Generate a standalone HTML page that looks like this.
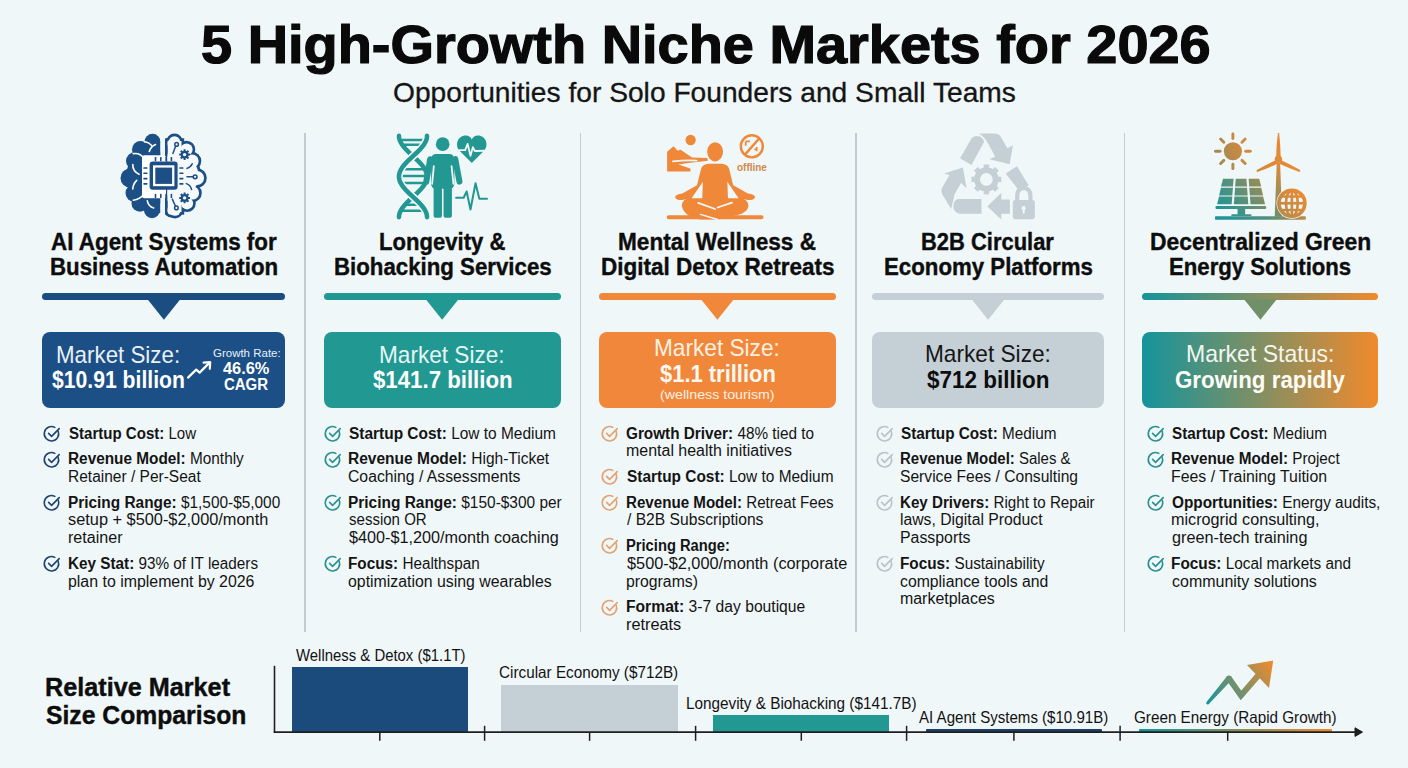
<!DOCTYPE html>
<html><head><meta charset="utf-8"><style>
html,body{margin:0;padding:0;}
body{width:1408px;height:768px;overflow:hidden;position:relative;background:#f0f7f8;font-family:"Liberation Sans",sans-serif;}
.t{position:absolute;white-space:pre;line-height:1;transform-origin:0 0;}
.t b{font-weight:bold;}
</style></head><body>
<div style="position:absolute;left:304.3px;top:133px;width:1.90px;height:498.50px;background:#c4cbd0;border-radius:0px;"></div><div style="position:absolute;left:579.9px;top:133px;width:1.50px;height:498.50px;background:#c4cbd0;border-radius:0px;"></div><div style="position:absolute;left:855.2px;top:133px;width:1.60px;height:498.50px;background:#c4cbd0;border-radius:0px;"></div><div style="position:absolute;left:1123.7px;top:133px;width:1.50px;height:498.50px;background:#c4cbd0;border-radius:0px;"></div><div style="position:absolute;left:42.3px;top:293.2px;width:243.20px;height:6.90px;background:#1b4d80;border-radius:3.5px;"></div><div style="position:absolute;left:42.3px;top:331.7px;width:243.20px;height:76.30px;background:#1b4f86;border-radius:8px;"></div><div style="position:absolute;left:323.7px;top:293.2px;width:236.90px;height:6.90px;background:#229893;border-radius:3.5px;"></div><div style="position:absolute;left:323.7px;top:331.7px;width:236.90px;height:76.30px;background:#229893;border-radius:8px;"></div><div style="position:absolute;left:598.7px;top:293.2px;width:237.40px;height:6.90px;background:#f0873a;border-radius:3.5px;"></div><div style="position:absolute;left:598.7px;top:331.7px;width:237.40px;height:76.30px;background:#f0873a;border-radius:8px;"></div><div style="position:absolute;left:871.8px;top:293.2px;width:232.60px;height:6.90px;background:#c4cfd6;border-radius:3.5px;"></div><div style="position:absolute;left:871.8px;top:331.7px;width:232.60px;height:76.30px;background:#c4cfd6;border-radius:8px;"></div><div style="position:absolute;left:1142.4px;top:293.2px;width:236.00px;height:6.90px;background:linear-gradient(90deg,#14949b 0%,#f08a2c 100%);border-radius:3.5px;"></div><div style="position:absolute;left:1142.4px;top:331.7px;width:236.00px;height:76.30px;background:linear-gradient(90deg,#14949b 0%,#f08a2c 100%);border-radius:8px;"></div><svg style="position:absolute;left:0;top:0" width="1408" height="768"><path d="M147.70000000000002 299.5 L180.1 299.5 L163.9 319.8 Z" fill="#1b4d80"/><path d="M425.95 299.5 L458.34999999999997 299.5 L442.15 319.8 Z" fill="#229893"/><path d="M701.2 299.5 L733.6000000000001 299.5 L717.4000000000001 319.8 Z" fill="#f0873a"/><path d="M971.9 299.5 L1004.3000000000001 299.5 L988.1 319.8 Z" fill="#c4cfd6"/><path d="M1244.2 299.5 L1276.6000000000001 299.5 L1260.4 319.8 Z" fill="#6f9068"/></svg><svg style="position:absolute;left:0;top:0" width="1408" height="768"><path d="M188 377.6 L196.2 369.6 L199.6 372.6 L208.6 363.6" fill="none" stroke="#fff" stroke-width="2.2" stroke-linecap="round" stroke-linejoin="round"/><path d="M203.6 362.6 L210.2 362.2 L209.8 368.8" fill="none" stroke="#fff" stroke-width="2.2" stroke-linecap="round" stroke-linejoin="round"/></svg><div style="position:absolute;left:292px;top:667.3px;width:176.30px;height:64.70px;background:#1a4b7c;border-radius:0px;"></div><div style="position:absolute;left:500.8px;top:684.8px;width:176.90px;height:47.20px;background:#c4cfd6;border-radius:0px;"></div><div style="position:absolute;left:713.2px;top:715.1px;width:176.00px;height:16.90px;background:#229893;border-radius:0px;"></div><div style="position:absolute;left:925.9px;top:729.3px;width:176.30px;height:2.70px;background:#1b3f6a;border-radius:1px;"></div><div style="position:absolute;left:1139.4px;top:729.3px;width:192.60px;height:2.70px;background:linear-gradient(90deg,#14949b 0%,#f08a2c 100%);border-radius:1px;"></div><svg style="position:absolute;left:0;top:0" width="1408" height="768"><line x1="274.5" y1="665.8" x2="274.5" y2="732.8" stroke="#1f1f1f" stroke-width="1.6"/><line x1="273.7" y1="732.1" x2="1357" y2="732.1" stroke="#1f1f1f" stroke-width="1.7"/><path d="M1355 727.8 L1362.5 732.1 L1355 736.4 Z" fill="#1f1f1f" stroke="#1f1f1f" stroke-width="1"/><line x1="484.6" y1="725.8" x2="484.6" y2="740.8" stroke="#1f1f1f" stroke-width="1.5"/><line x1="695.6" y1="725.8" x2="695.6" y2="740.8" stroke="#1f1f1f" stroke-width="1.5"/><line x1="906.6" y1="725.8" x2="906.6" y2="740.8" stroke="#1f1f1f" stroke-width="1.5"/><line x1="1120.1" y1="725.8" x2="1120.1" y2="740.8" stroke="#1f1f1f" stroke-width="1.5"/><line x1="379.8" y1="732" x2="379.8" y2="740.8" stroke="#1f1f1f" stroke-width="1.5"/><line x1="589.6" y1="732" x2="589.6" y2="740.8" stroke="#1f1f1f" stroke-width="1.5"/><line x1="801.3" y1="732" x2="801.3" y2="740.8" stroke="#1f1f1f" stroke-width="1.5"/><line x1="1013.9" y1="732" x2="1013.9" y2="740.8" stroke="#1f1f1f" stroke-width="1.5"/><line x1="1227.7" y1="732" x2="1227.7" y2="740.8" stroke="#1f1f1f" stroke-width="1.5"/></svg><svg style="position:absolute;left:0;top:0;overflow:visible" width="1408" height="768"><defs><linearGradient id="ta" gradientUnits="userSpaceOnUse" x1="1207" y1="703" x2="1272" y2="662"><stop offset="0" stop-color="#15949b"/><stop offset="0.5" stop-color="#7f9068"/><stop offset="1" stop-color="#f08a2c"/></linearGradient></defs><path d="M1206.3 703.8 Q1206 702.5 1207.5 700.8 L1226.8 676.4 L1231.2 680.6 L1208.6 704.2 Q1207.2 705 1206.3 703.8 Z" fill="url(#ta)"/><circle cx="1229" cy="678.5" r="3" fill="url(#ta)"/><path d="M1229 678.5 L1241 695.5 L1259.5 674" fill="none" stroke="url(#ta)" stroke-width="6" stroke-linejoin="miter"/><path d="M1247 665 L1273.2 660.6 L1269 688 Z" fill="url(#ta)"/></svg><svg style="position:absolute;left:0;top:0;overflow:visible" width="1408" height="768">
<defs><clipPath id="bl"><rect x="100" y="120" width="60.2" height="110"/></clipPath>
<clipPath id="br"><rect x="164.9" y="120" width="60" height="110"/></clipPath>
<clipPath id="br2"><rect x="167.5" y="120" width="60" height="110"/></clipPath></defs>
<g clip-path="url(#bl)" fill="#1b4f86"><circle cx="152.5" cy="141.8" r="8"/><circle cx="140.5" cy="149.5" r="8.5"/><circle cx="135" cy="161" r="9"/><circle cx="130" cy="178" r="9.5"/><circle cx="134.5" cy="193" r="9"/><circle cx="140" cy="203.3" r="8.5"/><circle cx="152" cy="210.2" r="8"/><circle cx="150" cy="176" r="24"/><circle cx="152" cy="160" r="12"/><circle cx="152" cy="195" r="12"/><rect x="146" y="141" width="16" height="72"/></g>
<g clip-path="url(#br)" fill="#1b4f86" stroke="#1b4f86" stroke-width="5.4"><circle cx="174.5" cy="141.8" r="5.6"/><circle cx="186.5" cy="149.5" r="6.1"/><circle cx="192" cy="161" r="6.6"/><circle cx="197" cy="178" r="7.1"/><circle cx="192.5" cy="193" r="6.6"/><circle cx="187" cy="203.3" r="6.1"/><circle cx="175" cy="210.2" r="5.6"/><circle cx="177" cy="176" r="21.6"/><circle cx="175" cy="160" r="9.6"/><circle cx="175" cy="195" r="9.6"/><circle cx="171.2" cy="143.6" r="4.2"/><circle cx="171.2" cy="210.5" r="4.2"/><rect x="167.5" y="141" width="14" height="71"/></g>
<g clip-path="url(#br2)" fill="#f6f9fb"><circle cx="174.5" cy="141.8" r="5.6"/><circle cx="186.5" cy="149.5" r="6.1"/><circle cx="192" cy="161" r="6.6"/><circle cx="197" cy="178" r="7.1"/><circle cx="192.5" cy="193" r="6.6"/><circle cx="187" cy="203.3" r="6.1"/><circle cx="175" cy="210.2" r="5.6"/><circle cx="177" cy="176" r="21.6"/><circle cx="175" cy="160" r="9.6"/><circle cx="175" cy="195" r="9.6"/><circle cx="171.2" cy="143.6" r="4.2"/><circle cx="171.2" cy="210.5" r="4.2"/><rect x="167.5" y="141" width="14" height="71"/></g>
<g fill="none" stroke="#fff" stroke-width="1.6" stroke-linecap="round">
<path d="M144.3 141.7 Q149.5 142.5 152 146"/>
<path d="M149.3 151.5 Q151 146.5 155.5 144.6"/>
<path d="M133.2 153.6 Q140 152.5 144.3 158.5"/>
<path d="M132.8 164.5 Q132.5 171 139 174.3"/>
<path d="M136.7 180.4 Q133 184 132.8 189"/>
<path d="M133.2 200.2 Q140 199.5 144.3 193.8"/>
<path d="M147.3 200.8 Q148.5 206.5 153.7 207.9"/>
</g>
<g fill="none" stroke="#1b4f86" stroke-width="1.5" stroke-linecap="round">
<path d="M172.9 153.4 L175.6 146.2"/><circle cx="176.6" cy="144.4" r="1.8"/>
<path d="M187 176.8 L193 176.8"/><circle cx="195.1" cy="176.8" r="1.9"/>
<path d="M172.3 199.1 L175.4 206"/><circle cx="176.4" cy="207.9" r="1.8"/>
<path d="M187 168.4 Q191 167 192.2 163.8"/>
<path d="M186.3 183.6 Q190.5 185 191.6 189.5"/>
</g>
<rect x="183.60" y="149.20" width="2.00" height="2.00" rx="0.30" transform="rotate(0.0 184.60 154.60)" fill="#1b4f86"/><rect x="183.60" y="149.20" width="2.00" height="2.00" rx="0.30" transform="rotate(45.0 184.60 154.60)" fill="#1b4f86"/><rect x="183.60" y="149.20" width="2.00" height="2.00" rx="0.30" transform="rotate(90.0 184.60 154.60)" fill="#1b4f86"/><rect x="183.60" y="149.20" width="2.00" height="2.00" rx="0.30" transform="rotate(135.0 184.60 154.60)" fill="#1b4f86"/><rect x="183.60" y="149.20" width="2.00" height="2.00" rx="0.30" transform="rotate(180.0 184.60 154.60)" fill="#1b4f86"/><rect x="183.60" y="149.20" width="2.00" height="2.00" rx="0.30" transform="rotate(225.0 184.60 154.60)" fill="#1b4f86"/><rect x="183.60" y="149.20" width="2.00" height="2.00" rx="0.30" transform="rotate(270.0 184.60 154.60)" fill="#1b4f86"/><rect x="183.60" y="149.20" width="2.00" height="2.00" rx="0.30" transform="rotate(315.0 184.60 154.60)" fill="#1b4f86"/><circle cx="184.6" cy="154.6" r="3.9" fill="#1b4f86"/><circle cx="184.6" cy="154.6" r="1.7" fill="#f6f9fb"/>
<rect x="183.60" y="192.50" width="2.00" height="2.00" rx="0.30" transform="rotate(0.0 184.60 197.90)" fill="#1b4f86"/><rect x="183.60" y="192.50" width="2.00" height="2.00" rx="0.30" transform="rotate(45.0 184.60 197.90)" fill="#1b4f86"/><rect x="183.60" y="192.50" width="2.00" height="2.00" rx="0.30" transform="rotate(90.0 184.60 197.90)" fill="#1b4f86"/><rect x="183.60" y="192.50" width="2.00" height="2.00" rx="0.30" transform="rotate(135.0 184.60 197.90)" fill="#1b4f86"/><rect x="183.60" y="192.50" width="2.00" height="2.00" rx="0.30" transform="rotate(180.0 184.60 197.90)" fill="#1b4f86"/><rect x="183.60" y="192.50" width="2.00" height="2.00" rx="0.30" transform="rotate(225.0 184.60 197.90)" fill="#1b4f86"/><rect x="183.60" y="192.50" width="2.00" height="2.00" rx="0.30" transform="rotate(270.0 184.60 197.90)" fill="#1b4f86"/><rect x="183.60" y="192.50" width="2.00" height="2.00" rx="0.30" transform="rotate(315.0 184.60 197.90)" fill="#1b4f86"/><circle cx="184.6" cy="197.9" r="3.9" fill="#1b4f86"/><circle cx="184.6" cy="197.9" r="1.7" fill="#f6f9fb"/>
<rect x="142" y="155.2" width="24" height="43" rx="2.5" fill="#fff"/>
<g fill="#1b4f86">
<rect x="154.7" y="157" width="1.6" height="4.2" rx="0.6"/><rect x="154.7" y="193.8" width="1.6" height="4.2" rx="0.6"/><rect x="160.0" y="157" width="1.6" height="4.2" rx="0.6"/><rect x="160.0" y="193.8" width="1.6" height="4.2" rx="0.6"/><rect x="165.3" y="157" width="1.6" height="4.2" rx="0.6"/><rect x="165.3" y="193.8" width="1.6" height="4.2" rx="0.6"/><rect x="170.6" y="157" width="1.6" height="4.2" rx="0.6"/><rect x="170.6" y="193.8" width="1.6" height="4.2" rx="0.6"/><rect x="143.3" y="167.2" width="4.2" height="1.6" rx="0.6"/><rect x="179.3" y="167.2" width="4.2" height="1.6" rx="0.6"/><rect x="143.3" y="172.5" width="4.2" height="1.6" rx="0.6"/><rect x="179.3" y="172.5" width="4.2" height="1.6" rx="0.6"/><rect x="143.3" y="177.8" width="4.2" height="1.6" rx="0.6"/><rect x="179.3" y="177.8" width="4.2" height="1.6" rx="0.6"/><rect x="143.3" y="183.1" width="4.2" height="1.6" rx="0.6"/><rect x="179.3" y="183.1" width="4.2" height="1.6" rx="0.6"/>
<rect x="149.6" y="161.6" width="28" height="28.1" rx="3"/>
</g>
<rect x="154.15" y="166.45" width="19.1" height="18.6" fill="none" stroke="#fff" stroke-width="2.3"/>
</svg><svg style="position:absolute;left:390px;top:128px;overflow:visible" width="100" height="92" viewBox="0 0 835 768">
<g fill="none" stroke="#239893" stroke-linecap="round">
<g stroke-width="21"><line x1="91.1" y1="100" x2="292.9" y2="100"/><line x1="112.0" y1="140" x2="272.0" y2="140"/><line x1="102.5" y1="345" x2="281.5" y2="345"/><line x1="85.1" y1="400" x2="298.9" y2="400"/><line x1="99.8" y1="460" x2="284.2" y2="460"/><line x1="135.9" y1="640" x2="248.1" y2="640"/><line x1="99.8" y1="690" x2="284.2" y2="690"/></g>
<path d="M75.0,65 L75.5,75 L77.0,85 L79.5,95 L82.9,105 L87.3,115 L92.5,125 L98.6,135 L105.5,145 L113.2,155 L121.5,165 L130.4,175 L139.8,185 L149.7,195 L160.0,205 L170.5,215 L181.2,225 L192.0,235 L202.8,245 L213.5,255 L224.0,265 L234.3,275 L244.2,285 L253.6,295 L262.5,305 L270.8,315 L278.5,325 L285.4,335 L291.5,345 L296.7,355 L301.1,365 L304.5,375 L307.0,385 L308.5,395 L309.0,405 L308.5,415 L307.0,425 L304.5,435 L301.1,445 L296.7,455 L291.5,465 L285.4,475 L278.5,485 L270.8,495 L262.5,505 L253.6,515 L244.2,525 L234.3,535 L224.0,545 L213.5,555 L202.8,565 L192.0,575 L181.2,585 L170.5,595 L160.0,605 L149.7,615 L139.8,625 L130.4,635 L121.5,645 L113.2,655 L105.5,665 L98.6,675 L92.5,685 L87.3,695 L82.9,705 L79.5,715 L77.0,725 L75.5,735 L75.0,745" stroke-width="38"/>
<path d="M309.0,65 L308.5,75 L307.0,85 L304.5,95 L301.1,105 L296.7,115 L291.5,125 L285.4,135 L278.5,145 L270.8,155 L262.5,165 L253.6,175 L244.2,185 L234.3,195 L224.0,205 L213.5,215 L202.8,225 L192.0,235 L181.2,245 L170.5,255 L160.0,265 L149.7,275 L139.8,285 L130.4,295 L121.5,305 L113.2,315 L105.5,325 L98.6,335 L92.5,345 L87.3,355 L82.9,365 L79.5,375 L77.0,385 L75.5,395 L75.0,405 L75.5,415 L77.0,425 L79.5,435 L82.9,445 L87.3,455 L92.5,465 L98.6,475 L105.5,485 L113.2,495 L121.5,505 L130.4,515 L139.8,525 L149.7,535 L160.0,545 L170.5,555 L181.2,565 L192.0,575 L202.8,585 L213.5,595 L224.0,605 L234.3,615 L244.2,625 L253.6,635 L262.5,645 L270.8,655 L278.5,665 L285.4,675 L291.5,685 L296.7,695 L301.1,705 L304.5,715 L307.0,725 L308.5,735 L309.0,745" stroke="#f0f7f8" stroke-width="64"/>
<path d="M309.0,65 L308.5,75 L307.0,85 L304.5,95 L301.1,105 L296.7,115 L291.5,125 L285.4,135 L278.5,145 L270.8,155 L262.5,165 L253.6,175 L244.2,185 L234.3,195 L224.0,205 L213.5,215 L202.8,225 L192.0,235 L181.2,245 L170.5,255 L160.0,265 L149.7,275 L139.8,285 L130.4,295 L121.5,305 L113.2,315 L105.5,325 L98.6,335 L92.5,345 L87.3,355 L82.9,365 L79.5,375 L77.0,385 L75.5,395 L75.0,405 L75.5,415 L77.0,425 L79.5,435 L82.9,445 L87.3,455 L92.5,465 L98.6,475 L105.5,485 L113.2,495 L121.5,505 L130.4,515 L139.8,525 L149.7,535 L160.0,545 L170.5,555 L181.2,565 L192.0,575 L202.8,585 L213.5,595 L224.0,605 L234.3,615 L244.2,625 L253.6,635 L262.5,645 L270.8,655 L278.5,665 L285.4,675 L291.5,685 L296.7,695 L301.1,705 L304.5,715 L307.0,725 L308.5,735 L309.0,745" stroke-width="38"/>
</g>
<g fill="#239893">
<circle cx="440" cy="135" r="57"/>
<rect x="343" y="218" width="194" height="290" rx="40"/>
<rect x="364" y="440" width="70" height="310" rx="22"/>
<rect x="447" y="440" width="70" height="310" rx="22"/>
</g>
<g stroke="#239893" stroke-width="50" stroke-linecap="round">
<line x1="335" y1="260" x2="303" y2="448"/>
<line x1="545" y1="260" x2="580" y2="448"/>
</g>
<g stroke="#f0f7f8" stroke-width="15" stroke-linecap="round"><line x1="366" y1="318" x2="352" y2="466"/><line x1="514" y1="318" x2="530" y2="466"/></g>
<path d="M683 292 L585 195 C535 145 565 62 632 62 C660 62 676 80 683 95 C690 80 706 62 734 62 C801 62 831 145 781 195 Z" fill="#239893"/>
<path d="M572 185 L628 185 L648 132 L672 232 L692 160 L708 192 L798 190" fill="none" stroke="#eef7f6" stroke-width="15" stroke-linejoin="round"/>
<path d="M552 582 L615 582 L640 530 L672 680 L714 462 L746 590 L810 590" fill="none" stroke="#239893" stroke-width="17" stroke-linejoin="round" stroke-linecap="round"/>
</svg><svg style="position:absolute;left:660px;top:128px;overflow:visible" width="120" height="94" viewBox="0 0 980 768">
<g fill="#ef8839">
<circle cx="250" cy="98" r="42"/>
<path d="M58 355 L58 195 L110 150 L145 185 L165 175 L262 242 L385 246 L392 268 L230 285 L150 298 L248 330 L250 355 Z"/>
<ellipse cx="450" cy="195" rx="65" ry="78"/>
<path d="M335 335 Q345 295 400 292 L500 292 Q555 295 565 335 L598 468 L718 535 Q770 540 778 565 Q762 592 718 588 L580 562 L560 600 L340 600 L320 562 L182 588 Q138 592 122 565 Q130 540 182 535 L302 468 Z"/>
<path d="M178 640 Q176 575 260 568 L640 568 Q722 575 722 640 Q715 690 640 708 L470 748 L330 748 Q200 728 178 640 Z"/>
<rect x="55" y="712" width="790" height="34" rx="16"/>
</g>
<g fill="none" stroke="#f0f7f8" stroke-width="14" stroke-linecap="round">
<path d="M105 272 Q200 262 300 266"/>
<path d="M312 612 L450 662"/>
<path d="M470 650 L588 610"/>

<path d="M330 706 L470 748" stroke-width="12"/>
</g>
<g fill="#f0f7f8"><path d="M350 440 L345 574 L258 574 Z"/><path d="M550 440 L555 574 L642 574 Z"/></g>
<g fill="none" stroke="#ef8839" stroke-width="20">
<circle cx="750" cy="150" r="90"/>
<line x1="690" y1="222" x2="812" y2="84"/>
<path d="M700 110 L700 145 M700 110 L735 110" stroke-width="14"/>
<path d="M790 155 L790 190 M770 175 L790 175" stroke-width="14"/>
</g>
</svg><svg style="position:absolute;left:935px;top:128px;overflow:visible" width="110" height="94" viewBox="0 0 899 768">
<g fill="#c4cfd6">
<path d="M205 248 L300 82 Q330 55 372 72 Q392 85 402 112 L298 302 Z"/>
<path d="M358 45 L488 45 Q522 45 540 75 L592 165 L637 140 L610 296 L445 256 L492 232 L432 125 Q405 70 358 45 Z"/>
<path d="M578 372 L670 312 L766 470 L684 508 Z"/>
<path d="M188 580 L380 580 L380 700 L205 700 Q150 695 150 640 Q152 585 188 580 Z"/>
<path d="M428 642 L542 530 L542 584 L612 584 L612 700 L542 700 L542 748 Z"/>
<path d="M132 662 L58 540 Q45 515 58 488 L118 385 L75 372 L228 322 L258 492 L212 450 L160 542 Z"/>
<circle cx="420" cy="420" r="100"/>
<rect x="498.0" y="398.0" width="44" height="44" transform="rotate(0 520.0 420.0)"/><rect x="468.7" y="468.7" width="44" height="44" transform="rotate(45 490.7 490.7)"/><rect x="398.0" y="498.0" width="44" height="44" transform="rotate(90 420.0 520.0)"/><rect x="327.3" y="468.7" width="44" height="44" transform="rotate(135 349.3 490.7)"/><rect x="298.0" y="398.0" width="44" height="44" transform="rotate(180 320.0 420.0)"/><rect x="327.3" y="327.3" width="44" height="44" transform="rotate(225 349.3 349.3)"/><rect x="398.0" y="298.0" width="44" height="44" transform="rotate(270 420.0 320.0)"/><rect x="468.7" y="327.3" width="44" height="44" transform="rotate(315 490.7 349.3)"/>
<rect x="636" y="588" width="180" height="158" rx="22"/>
</g>
<circle cx="420" cy="420" r="52" fill="#f0f7f8"/>
<path d="M672 600 L672 555 Q672 492 726 492 Q780 492 780 555 L780 600" fill="none" stroke="#c4cfd6" stroke-width="34"/>
<g fill="#f0f7f8"><circle cx="725" cy="655" r="17"/><rect x="717" y="655" width="16" height="45" rx="4"/></g>
</svg><svg style="position:absolute;left:1205px;top:128px;overflow:visible" width="110" height="94" viewBox="0 0 899 768">
<defs><linearGradient id="eg" gradientUnits="userSpaceOnUse" x1="100" y1="700" x2="470" y2="400">
<stop offset="0" stop-color="#12969c"/><stop offset="0.55" stop-color="#5f9078"/><stop offset="1" stop-color="#a58a4e"/></linearGradient>
<linearGradient id="og" gradientUnits="userSpaceOnUse" x1="120" y1="330" x2="800" y2="60">
<stop offset="0" stop-color="#9c8a55"/><stop offset="0.35" stop-color="#d4893e"/><stop offset="1" stop-color="#f08a30"/></linearGradient>
<linearGradient id="tg" gradientUnits="userSpaceOnUse" x1="600" y1="730" x2="600" y2="250">
<stop offset="0" stop-color="#6e8f6a"/><stop offset="1" stop-color="#e88a35"/></linearGradient>
<linearGradient id="gg" gradientUnits="userSpaceOnUse" x1="80" y1="735" x2="830" y2="735">
<stop offset="0" stop-color="#14959b"/><stop offset="0.55" stop-color="#4f9080"/><stop offset="1" stop-color="#c08a48"/></linearGradient>
<linearGradient id="glg" gradientUnits="userSpaceOnUse" x1="600" y1="720" x2="820" y2="500">
<stop offset="0" stop-color="#b58a4c"/><stop offset="1" stop-color="#f08a30"/></linearGradient></defs>
<g fill="url(#eg)" stroke="none">
<path d="M147.0 414.5 L233.7 414.5 L228.3 478.5 L130.9 478.5 Z"/><path d="M251.7 414.5 L338.3 414.5 L343.7 478.5 L246.3 478.5 Z"/><path d="M356.3 414.5 L443.0 414.5 L459.1 478.5 L361.7 478.5 Z"/><path d="M130.9 487.5 L228.3 487.5 L223.0 551.5 L114.9 551.5 Z"/><path d="M246.3 487.5 L343.7 487.5 L349.0 551.5 L241.0 551.5 Z"/><path d="M361.7 487.5 L459.1 487.5 L475.1 551.5 L367.0 551.5 Z"/><path d="M114.9 560.5 L223.0 560.5 L217.7 623.5 L99.0 623.5 Z"/><path d="M241.0 560.5 L349.0 560.5 L354.3 623.5 L235.7 623.5 Z"/><path d="M367.0 560.5 L475.1 560.5 L491.0 623.5 L372.3 623.5 Z"/>
<rect x="86" y="638" width="414" height="24" rx="8"/>
<rect x="266" y="660" width="62" height="50"/>
<rect x="215" y="704" width="165" height="16" rx="6"/>
</g>
<rect x="82" y="722" width="742" height="27" rx="6" fill="url(#gg)"/>
<path d="M586 285 L614 285 L630 725 L570 725 Z" fill="url(#tg)"/>
<g fill="url(#og)">
<circle cx="228" cy="190" r="74"/>
<circle cx="600" cy="255" r="30"/>
<path d="M582 230 Q584 120 597 42 Q601 34 605 42 Q616 120 618 230 Z"/>
<path d="M580 262 Q500 300 426 342 Q414 352 428 360 Q510 330 592 292 Z"/>
<path d="M620 262 Q700 300 774 342 Q786 352 772 360 Q690 330 608 292 Z"/>
</g>
<g stroke="url(#og)" stroke-width="24" stroke-linecap="round"><line x1="333.0" y1="190.0" x2="370.0" y2="190.0"/><line x1="302.2" y1="264.2" x2="328.4" y2="290.4"/><line x1="228.0" y1="295.0" x2="228.0" y2="332.0"/><line x1="153.8" y1="264.2" x2="127.6" y2="290.4"/><line x1="123.0" y1="190.0" x2="86.0" y2="190.0"/><line x1="153.8" y1="115.8" x2="127.6" y2="89.6"/><line x1="228.0" y1="85.0" x2="228.0" y2="48.0"/><line x1="302.2" y1="115.8" x2="328.4" y2="89.6"/></g>
<circle cx="710" cy="615" r="126" fill="#f0f7f8"/>
<g fill="none" stroke="url(#glg)">
<circle cx="710" cy="615" r="106" stroke-width="30"/>
<ellipse cx="710" cy="615" rx="48" ry="106" stroke-width="22"/>
<line x1="710" y1="509" x2="710" y2="721" stroke-width="22"/>
<line x1="604" y1="615" x2="816" y2="615" stroke-width="22"/>
<line x1="622" y1="560" x2="798" y2="560" stroke-width="20"/>
<line x1="622" y1="670" x2="798" y2="670" stroke-width="20"/>
</g>
</svg><svg style="position:absolute;left:42.2px;top:424.0px;overflow:visible" width="20" height="20" viewBox="0 0 20 20"><path d="M16.2 7.2 A7.2 7.2 0 1 1 12.8 3.4" fill="none" stroke="#1d4470" stroke-width="1.6" stroke-linecap="round"/><path d="M6.6 9.4 L9.6 12.4 L17.2 4.6" fill="none" stroke="#1d4470" stroke-width="1.6" stroke-linecap="round" stroke-linejoin="round"/></svg><svg style="position:absolute;left:42.2px;top:449.6px;overflow:visible" width="20" height="20" viewBox="0 0 20 20"><path d="M16.2 7.2 A7.2 7.2 0 1 1 12.8 3.4" fill="none" stroke="#1d4470" stroke-width="1.6" stroke-linecap="round"/><path d="M6.6 9.4 L9.6 12.4 L17.2 4.6" fill="none" stroke="#1d4470" stroke-width="1.6" stroke-linecap="round" stroke-linejoin="round"/></svg><svg style="position:absolute;left:42.2px;top:493.00000000000006px;overflow:visible" width="20" height="20" viewBox="0 0 20 20"><path d="M16.2 7.2 A7.2 7.2 0 1 1 12.8 3.4" fill="none" stroke="#1d4470" stroke-width="1.6" stroke-linecap="round"/><path d="M6.6 9.4 L9.6 12.4 L17.2 4.6" fill="none" stroke="#1d4470" stroke-width="1.6" stroke-linecap="round" stroke-linejoin="round"/></svg><svg style="position:absolute;left:42.2px;top:554.2px;overflow:visible" width="20" height="20" viewBox="0 0 20 20"><path d="M16.2 7.2 A7.2 7.2 0 1 1 12.8 3.4" fill="none" stroke="#1d4470" stroke-width="1.6" stroke-linecap="round"/><path d="M6.6 9.4 L9.6 12.4 L17.2 4.6" fill="none" stroke="#1d4470" stroke-width="1.6" stroke-linecap="round" stroke-linejoin="round"/></svg><svg style="position:absolute;left:322.8px;top:424.0px;overflow:visible" width="20" height="20" viewBox="0 0 20 20"><path d="M16.2 7.2 A7.2 7.2 0 1 1 12.8 3.4" fill="none" stroke="#2a918f" stroke-width="1.6" stroke-linecap="round"/><path d="M6.6 9.4 L9.6 12.4 L17.2 4.6" fill="none" stroke="#2a918f" stroke-width="1.6" stroke-linecap="round" stroke-linejoin="round"/></svg><svg style="position:absolute;left:322.8px;top:449.6px;overflow:visible" width="20" height="20" viewBox="0 0 20 20"><path d="M16.2 7.2 A7.2 7.2 0 1 1 12.8 3.4" fill="none" stroke="#2a918f" stroke-width="1.6" stroke-linecap="round"/><path d="M6.6 9.4 L9.6 12.4 L17.2 4.6" fill="none" stroke="#2a918f" stroke-width="1.6" stroke-linecap="round" stroke-linejoin="round"/></svg><svg style="position:absolute;left:322.8px;top:493.00000000000006px;overflow:visible" width="20" height="20" viewBox="0 0 20 20"><path d="M16.2 7.2 A7.2 7.2 0 1 1 12.8 3.4" fill="none" stroke="#2a918f" stroke-width="1.6" stroke-linecap="round"/><path d="M6.6 9.4 L9.6 12.4 L17.2 4.6" fill="none" stroke="#2a918f" stroke-width="1.6" stroke-linecap="round" stroke-linejoin="round"/></svg><svg style="position:absolute;left:322.8px;top:554.2px;overflow:visible" width="20" height="20" viewBox="0 0 20 20"><path d="M16.2 7.2 A7.2 7.2 0 1 1 12.8 3.4" fill="none" stroke="#2a918f" stroke-width="1.6" stroke-linecap="round"/><path d="M6.6 9.4 L9.6 12.4 L17.2 4.6" fill="none" stroke="#2a918f" stroke-width="1.6" stroke-linecap="round" stroke-linejoin="round"/></svg><svg style="position:absolute;left:600.0px;top:424.0px;overflow:visible" width="20" height="20" viewBox="0 0 20 20"><path d="M16.2 7.2 A7.2 7.2 0 1 1 12.8 3.4" fill="none" stroke="#e3a270" stroke-width="1.6" stroke-linecap="round"/><path d="M6.6 9.4 L9.6 12.4 L17.2 4.6" fill="none" stroke="#e3a270" stroke-width="1.6" stroke-linecap="round" stroke-linejoin="round"/></svg><svg style="position:absolute;left:600.0px;top:467.40000000000003px;overflow:visible" width="20" height="20" viewBox="0 0 20 20"><path d="M16.2 7.2 A7.2 7.2 0 1 1 12.8 3.4" fill="none" stroke="#e3a270" stroke-width="1.6" stroke-linecap="round"/><path d="M6.6 9.4 L9.6 12.4 L17.2 4.6" fill="none" stroke="#e3a270" stroke-width="1.6" stroke-linecap="round" stroke-linejoin="round"/></svg><svg style="position:absolute;left:600.0px;top:493.00000000000006px;overflow:visible" width="20" height="20" viewBox="0 0 20 20"><path d="M16.2 7.2 A7.2 7.2 0 1 1 12.8 3.4" fill="none" stroke="#e3a270" stroke-width="1.6" stroke-linecap="round"/><path d="M6.6 9.4 L9.6 12.4 L17.2 4.6" fill="none" stroke="#e3a270" stroke-width="1.6" stroke-linecap="round" stroke-linejoin="round"/></svg><svg style="position:absolute;left:600.0px;top:536.4000000000001px;overflow:visible" width="20" height="20" viewBox="0 0 20 20"><path d="M16.2 7.2 A7.2 7.2 0 1 1 12.8 3.4" fill="none" stroke="#e3a270" stroke-width="1.6" stroke-linecap="round"/><path d="M6.6 9.4 L9.6 12.4 L17.2 4.6" fill="none" stroke="#e3a270" stroke-width="1.6" stroke-linecap="round" stroke-linejoin="round"/></svg><svg style="position:absolute;left:600.0px;top:597.6px;overflow:visible" width="20" height="20" viewBox="0 0 20 20"><path d="M16.2 7.2 A7.2 7.2 0 1 1 12.8 3.4" fill="none" stroke="#e3a270" stroke-width="1.6" stroke-linecap="round"/><path d="M6.6 9.4 L9.6 12.4 L17.2 4.6" fill="none" stroke="#e3a270" stroke-width="1.6" stroke-linecap="round" stroke-linejoin="round"/></svg><svg style="position:absolute;left:874.6px;top:424.0px;overflow:visible" width="20" height="20" viewBox="0 0 20 20"><path d="M16.2 7.2 A7.2 7.2 0 1 1 12.8 3.4" fill="none" stroke="#b9c2c7" stroke-width="1.6" stroke-linecap="round"/><path d="M6.6 9.4 L9.6 12.4 L17.2 4.6" fill="none" stroke="#b9c2c7" stroke-width="1.6" stroke-linecap="round" stroke-linejoin="round"/></svg><svg style="position:absolute;left:874.6px;top:449.6px;overflow:visible" width="20" height="20" viewBox="0 0 20 20"><path d="M16.2 7.2 A7.2 7.2 0 1 1 12.8 3.4" fill="none" stroke="#b9c2c7" stroke-width="1.6" stroke-linecap="round"/><path d="M6.6 9.4 L9.6 12.4 L17.2 4.6" fill="none" stroke="#b9c2c7" stroke-width="1.6" stroke-linecap="round" stroke-linejoin="round"/></svg><svg style="position:absolute;left:874.6px;top:493.00000000000006px;overflow:visible" width="20" height="20" viewBox="0 0 20 20"><path d="M16.2 7.2 A7.2 7.2 0 1 1 12.8 3.4" fill="none" stroke="#b9c2c7" stroke-width="1.6" stroke-linecap="round"/><path d="M6.6 9.4 L9.6 12.4 L17.2 4.6" fill="none" stroke="#b9c2c7" stroke-width="1.6" stroke-linecap="round" stroke-linejoin="round"/></svg><svg style="position:absolute;left:874.6px;top:554.2px;overflow:visible" width="20" height="20" viewBox="0 0 20 20"><path d="M16.2 7.2 A7.2 7.2 0 1 1 12.8 3.4" fill="none" stroke="#b9c2c7" stroke-width="1.6" stroke-linecap="round"/><path d="M6.6 9.4 L9.6 12.4 L17.2 4.6" fill="none" stroke="#b9c2c7" stroke-width="1.6" stroke-linecap="round" stroke-linejoin="round"/></svg><svg style="position:absolute;left:1145.6px;top:424.0px;overflow:visible" width="20" height="20" viewBox="0 0 20 20"><path d="M16.2 7.2 A7.2 7.2 0 1 1 12.8 3.4" fill="none" stroke="#2a8f8f" stroke-width="1.6" stroke-linecap="round"/><path d="M6.6 9.4 L9.6 12.4 L17.2 4.6" fill="none" stroke="#2a8f8f" stroke-width="1.6" stroke-linecap="round" stroke-linejoin="round"/></svg><svg style="position:absolute;left:1145.6px;top:449.6px;overflow:visible" width="20" height="20" viewBox="0 0 20 20"><path d="M16.2 7.2 A7.2 7.2 0 1 1 12.8 3.4" fill="none" stroke="#2a8f8f" stroke-width="1.6" stroke-linecap="round"/><path d="M6.6 9.4 L9.6 12.4 L17.2 4.6" fill="none" stroke="#2a8f8f" stroke-width="1.6" stroke-linecap="round" stroke-linejoin="round"/></svg><svg style="position:absolute;left:1145.6px;top:493.00000000000006px;overflow:visible" width="20" height="20" viewBox="0 0 20 20"><path d="M16.2 7.2 A7.2 7.2 0 1 1 12.8 3.4" fill="none" stroke="#2a8f8f" stroke-width="1.6" stroke-linecap="round"/><path d="M6.6 9.4 L9.6 12.4 L17.2 4.6" fill="none" stroke="#2a8f8f" stroke-width="1.6" stroke-linecap="round" stroke-linejoin="round"/></svg><svg style="position:absolute;left:1145.6px;top:554.2px;overflow:visible" width="20" height="20" viewBox="0 0 20 20"><path d="M16.2 7.2 A7.2 7.2 0 1 1 12.8 3.4" fill="none" stroke="#2a8f8f" stroke-width="1.6" stroke-linecap="round"/><path d="M6.6 9.4 L9.6 12.4 L17.2 4.6" fill="none" stroke="#2a8f8f" stroke-width="1.6" stroke-linecap="round" stroke-linejoin="round"/></svg>
<div class="t" style="left:200.92px;top:18.69px;font-size:52.8px;color:#0a0a0a;transform:scaleX(1.0589);-webkit-text-stroke:1.20px #0a0a0a"><b>5 High-Growth Niche Markets for 2026</b></div><div class="t" style="left:393.27px;top:78.97px;font-size:27.2px;color:#151515;transform:scaleX(1.0365);-webkit-text-stroke:0.30px #151515">Opportunities for Solo Founders and Small Teams</div><div class="t" style="left:50.65px;top:229.67px;font-size:24.599999999999998px;color:#0d0d0d;transform:scaleX(0.9106);-webkit-text-stroke:0.40px #0d0d0d"><b>AI Agent Systems for</b></div><div class="t" style="left:49.76px;top:255.27px;font-size:24.599999999999998px;color:#0d0d0d;transform:scaleX(0.9056);-webkit-text-stroke:0.40px #0d0d0d"><b>Business Automation</b></div><div class="t" style="left:378.87px;top:229.67px;font-size:24.599999999999998px;color:#0d0d0d;transform:scaleX(0.8987);-webkit-text-stroke:0.40px #0d0d0d"><b>Longevity &amp;</b></div><div class="t" style="left:333.66px;top:255.27px;font-size:24.599999999999998px;color:#0d0d0d;transform:scaleX(0.9048);-webkit-text-stroke:0.40px #0d0d0d"><b>Biohacking Services</b></div><div class="t" style="left:618.24px;top:229.67px;font-size:24.599999999999998px;color:#0d0d0d;transform:scaleX(0.9189);-webkit-text-stroke:0.40px #0d0d0d"><b>Mental Wellness &amp;</b></div><div class="t" style="left:600.85px;top:255.27px;font-size:24.599999999999998px;color:#0d0d0d;transform:scaleX(0.9137);-webkit-text-stroke:0.40px #0d0d0d"><b>Digital Detox Retreats</b></div><div class="t" style="left:921.28px;top:229.67px;font-size:24.599999999999998px;color:#0d0d0d;transform:scaleX(0.8920);-webkit-text-stroke:0.40px #0d0d0d"><b>B2B Circular</b></div><div class="t" style="left:883.67px;top:255.27px;font-size:24.599999999999998px;color:#0d0d0d;transform:scaleX(0.9044);-webkit-text-stroke:0.40px #0d0d0d"><b>Economy Platforms</b></div><div class="t" style="left:1149.73px;top:229.67px;font-size:24.599999999999998px;color:#0d0d0d;transform:scaleX(0.9297);-webkit-text-stroke:0.40px #0d0d0d"><b>Decentralized Green</b></div><div class="t" style="left:1169.37px;top:255.27px;font-size:24.599999999999998px;color:#0d0d0d;transform:scaleX(0.9008);-webkit-text-stroke:0.40px #0d0d0d"><b>Energy Solutions</b></div><div class="t" style="left:55.81px;top:343.52px;font-size:23.6px;color:#eaf0f7;transform:scaleX(0.9466)">Market Size:</div><div class="t" style="left:51.69px;top:367.97px;font-size:24.6px;color:#ffffff;transform:scaleX(0.8602)"><b>$10.91 billion</b></div><div class="t" style="left:212.73px;top:346.88px;font-size:11.6px;color:#eaf0f7;transform:scaleX(0.9904)">Growth Rate:</div><div class="t" style="left:223.14px;top:359.61px;font-size:17.0px;color:#ffffff;transform:scaleX(0.9621)"><b>46.6%</b></div><div class="t" style="left:224.10px;top:377.05px;font-size:16.0px;color:#ffffff;transform:scaleX(0.9357)"><b>CAGR</b></div><div class="t" style="left:379.19px;top:343.52px;font-size:23.6px;color:#e6f6f4;transform:scaleX(0.9576)">Market Size:</div><div class="t" style="left:372.68px;top:367.97px;font-size:24.6px;color:#ffffff;transform:scaleX(0.9041)"><b>$141.7 billion</b></div><div class="t" style="left:654.39px;top:336.62px;font-size:23.6px;color:#fff1e2;transform:scaleX(0.9592)">Market Size:</div><div class="t" style="left:659.78px;top:362.17px;font-size:24.6px;color:#fff8ef;transform:scaleX(0.8921)"><b>$1.1 trillion</b></div><div class="t" style="left:659.85px;top:387.62px;font-size:13.2px;color:#fff1e2;transform:scaleX(1.0786)">(wellness tourism)</div><div class="t" style="left:925.19px;top:342.92px;font-size:23.6px;color:#161616;transform:scaleX(0.9600)">Market Size:</div><div class="t" style="left:927.28px;top:367.87px;font-size:24.6px;color:#0d0d0d;transform:scaleX(0.9135)"><b>$712 billion</b></div><div class="t" style="left:1186.06px;top:343.12px;font-size:23.6px;color:#f3f6ee;transform:scaleX(0.9751)">Market Status:</div><div class="t" style="left:1174.91px;top:367.87px;font-size:24.6px;color:#fffdf5;transform:scaleX(0.9074)"><b>Growing rapidly</b></div><div class="t" style="left:68.50px;top:425.69px;font-size:15.6px;color:#141414;transform:scaleX(0.9646)"><b>Startup Cost:</b> Low</div><div class="t" style="left:67.88px;top:451.29px;font-size:15.6px;color:#141414;transform:scaleX(0.9846)"><b>Revenue Model:</b> Monthly</div><div class="t" style="left:67.56px;top:469.09px;font-size:15.6px;color:#141414;transform:scaleX(0.9946)">Retainer / Per-Seat</div><div class="t" style="left:67.88px;top:494.69px;font-size:15.6px;color:#141414;transform:scaleX(0.9872)"><b>Pricing Range:</b> $1,500-$5,000</div><div class="t" style="left:68.47px;top:512.49px;font-size:15.6px;color:#141414;transform:scaleX(1.0476)">setup + $500-$2,000/month</div><div class="t" style="left:67.83px;top:530.29px;font-size:15.6px;color:#141414;transform:scaleX(1.0318)">retainer</div><div class="t" style="left:67.88px;top:555.89px;font-size:15.6px;color:#141414;transform:scaleX(0.9802)"><b>Key Stat:</b> 93% of IT leaders</div><div class="t" style="left:67.85px;top:573.69px;font-size:15.6px;color:#141414;transform:scaleX(1.0194)">plan to implement by 2026</div><div class="t" style="left:348.79px;top:425.69px;font-size:15.6px;color:#141414;transform:scaleX(0.9908)"><b>Startup Cost:</b> Low to Medium</div><div class="t" style="left:348.17px;top:451.29px;font-size:15.6px;color:#141414;transform:scaleX(0.9948)"><b>Revenue Model:</b> High-Ticket</div><div class="t" style="left:348.31px;top:469.09px;font-size:15.6px;color:#141414;transform:scaleX(1.0098)">Coaching / Assessments</div><div class="t" style="left:348.17px;top:494.69px;font-size:15.6px;color:#141414;transform:scaleX(0.9904)"><b>Pricing Range:</b> $150-$300 per</div><div class="t" style="left:348.80px;top:512.49px;font-size:15.6px;color:#141414;transform:scaleX(0.9641)">session OR</div><div class="t" style="left:348.94px;top:530.29px;font-size:15.6px;color:#141414;transform:scaleX(1.0380)">$400-$1,200/month coaching</div><div class="t" style="left:348.18px;top:555.89px;font-size:15.6px;color:#141414;transform:scaleX(0.9806)"><b>Focus:</b> Healthspan</div><div class="t" style="left:348.47px;top:573.69px;font-size:15.6px;color:#141414;transform:scaleX(1.0170)">optimization using wearables</div><div class="t" style="left:626.39px;top:425.69px;font-size:15.6px;color:#141414;transform:scaleX(0.9815)"><b>Growth Driver:</b> 48% tied to</div><div class="t" style="left:626.04px;top:443.49px;font-size:15.6px;color:#141414;transform:scaleX(1.0239)">mental health initiatives</div><div class="t" style="left:626.69px;top:469.09px;font-size:15.6px;color:#141414;transform:scaleX(0.9889)"><b>Startup Cost:</b> Low to Medium</div><div class="t" style="left:626.09px;top:494.69px;font-size:15.6px;color:#141414;transform:scaleX(0.9703)"><b>Revenue Model:</b> Retreat Fees</div><div class="t" style="left:627.00px;top:512.49px;font-size:15.6px;color:#141414;transform:scaleX(1.0025)">/ B2B Subscriptions</div><div class="t" style="left:626.12px;top:538.09px;font-size:15.6px;color:#141414;transform:scaleX(0.9434)"><b>Pricing Range:</b></div><div class="t" style="left:626.84px;top:555.89px;font-size:15.6px;color:#141414;transform:scaleX(1.0456)">$500-$2,000/month (corporate</div><div class="t" style="left:626.05px;top:573.69px;font-size:15.6px;color:#141414;transform:scaleX(1.0127)">programs)</div><div class="t" style="left:626.06px;top:599.29px;font-size:15.6px;color:#141414;transform:scaleX(1.0038)"><b>Format:</b> 3-7 day boutique</div><div class="t" style="left:626.02px;top:617.09px;font-size:15.6px;color:#141414;transform:scaleX(1.0450)">retreats</div><div class="t" style="left:900.79px;top:425.69px;font-size:15.6px;color:#141414;transform:scaleX(0.9802)"><b>Startup Cost:</b> Medium</div><div class="t" style="left:900.20px;top:451.29px;font-size:15.6px;color:#141414;transform:scaleX(0.9600)"><b>Revenue Model:</b> Sales &amp;</div><div class="t" style="left:900.47px;top:469.09px;font-size:15.6px;color:#141414;transform:scaleX(1.0020)">Service Fees / Consulting</div><div class="t" style="left:900.19px;top:494.69px;font-size:15.6px;color:#141414;transform:scaleX(0.9716)"><b>Key Drivers:</b> Right to Repair</div><div class="t" style="left:900.16px;top:512.49px;font-size:15.6px;color:#141414;transform:scaleX(1.0091)">laws, Digital Product</div><div class="t" style="left:899.83px;top:530.29px;font-size:15.6px;color:#141414;transform:scaleX(1.0171)">Passports</div><div class="t" style="left:900.18px;top:555.89px;font-size:15.6px;color:#141414;transform:scaleX(0.9819)"><b>Focus:</b> Sustainability</div><div class="t" style="left:900.47px;top:573.69px;font-size:15.6px;color:#141414;transform:scaleX(1.0127)">compliance tools and</div><div class="t" style="left:900.14px;top:591.49px;font-size:15.6px;color:#141414;transform:scaleX(1.0212)">marketplaces</div><div class="t" style="left:1171.89px;top:425.69px;font-size:15.6px;color:#141414;transform:scaleX(0.9776)"><b>Startup Cost:</b> Medium</div><div class="t" style="left:1171.28px;top:451.29px;font-size:15.6px;color:#141414;transform:scaleX(0.9784)"><b>Revenue Model:</b> Project</div><div class="t" style="left:1170.93px;top:469.09px;font-size:15.6px;color:#141414;transform:scaleX(1.0170)">Fees / Training Tuition</div><div class="t" style="left:1171.58px;top:494.69px;font-size:15.6px;color:#141414;transform:scaleX(0.9856)"><b>Opportunities:</b> Energy audits,</div><div class="t" style="left:1171.23px;top:512.49px;font-size:15.6px;color:#141414;transform:scaleX(1.0380)">microgrid consulting,</div><div class="t" style="left:1171.55px;top:530.29px;font-size:15.6px;color:#141414;transform:scaleX(1.0414)">green-tech training</div><div class="t" style="left:1171.28px;top:555.89px;font-size:15.6px;color:#141414;transform:scaleX(0.9850)"><b>Focus:</b> Local markets and</div><div class="t" style="left:1171.56px;top:573.69px;font-size:15.6px;color:#141414;transform:scaleX(1.0255)">community solutions</div><div class="t" style="left:295.50px;top:647.33px;font-size:16.5px;color:#121212;transform:scaleX(0.9031)">Wellness &amp; Detox ($1.1T)</div><div class="t" style="left:499.34px;top:664.03px;font-size:16.5px;color:#121212;transform:scaleX(0.9260)">Circular Economy ($712B)</div><div class="t" style="left:685.78px;top:694.63px;font-size:16.5px;color:#121212;transform:scaleX(0.9274)">Longevity &amp; Biohacking ($141.7B)</div><div class="t" style="left:919.40px;top:709.23px;font-size:16.5px;color:#121212;transform:scaleX(0.9131)">AI Agent Systems ($10.91B)</div><div class="t" style="left:1134.34px;top:709.03px;font-size:16.5px;color:#121212;transform:scaleX(0.9238)">Green Energy (Rapid Growth)</div><div class="t" style="left:44.99px;top:674.95px;font-size:25.1px;color:#0d0d0d;transform:scaleX(1.0051);-webkit-text-stroke:0.40px #0d0d0d"><b>Relative Market</b></div><div class="t" style="left:45.71px;top:702.65px;font-size:25.1px;color:#0d0d0d;transform:scaleX(0.9846);-webkit-text-stroke:0.40px #0d0d0d"><b>Size Comparison</b></div><div class="t" style="left:736.70px;top:162.96px;font-size:10.2px;color:#d08848;transform:scaleX(0.9759)"><b>offline</b></div>
</body></html>
